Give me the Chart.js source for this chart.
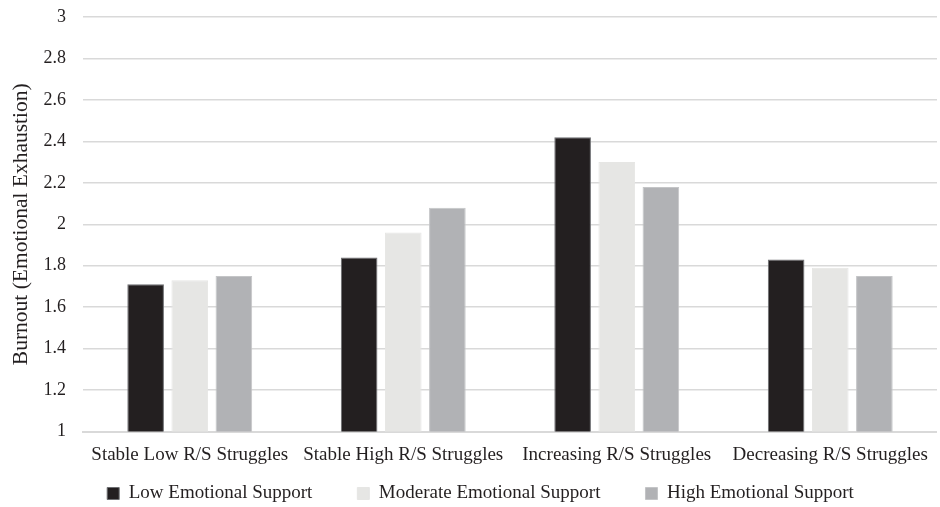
<!DOCTYPE html>
<html>
<head>
<meta charset="utf-8">
<script src="https://cdn.jsdelivr.net/npm/chart.js@4.4.0/dist/chart.umd.min.js"></script>
<style>
  html, body { margin: 0; padding: 0; background: #fff; }
  #wrap { width: 940px; height: 507px; }
</style>
</head>
<body>
<div id="wrap"><canvas id="grafikBurnout"></canvas></div>
<script>
// Data grafik
const labels = ['Stable Low R/S Struggles', 'Stable High R/S Struggles', 'Increasing R/S Struggles', 'Decreasing R/S Struggles'];
const dataLow = [1.71, 1.84, 2.42, 1.83];
const dataModerate = [1.73, 1.96, 2.30, 1.79];
const dataHigh = [1.75, 2.08, 2.18, 1.75];

Chart.defaults.font.family = '"Liberation Serif", "Times New Roman", serif';
Chart.defaults.color = '#231f20';

// Legend: jarak horizontal lebar, tapi jarak atas dibuat rapat
const paddingLegend = 45;
const geserLegend = paddingLegend - 17.5;
const geserLegendX = 9;
const legendRapat = {
    id: 'legendRapat',
    afterInit(chart) {
        const legend = chart.legend;
        const fitAsli = legend.fit.bind(legend);
        legend.fit = function() { fitAsli(); this.height -= geserLegend + 6; };
        const drawAsli = legend.draw.bind(legend);
        legend.draw = function() {
            this.top -= geserLegend; this.left += geserLegendX; this.right += geserLegendX;
            drawAsli();
            this.top += geserLegend; this.left -= geserLegendX; this.right -= geserLegendX;
        };
    }
};

let chartBurnout = new Chart(document.getElementById('grafikBurnout').getContext('2d'), {
    type: 'bar',
    data: {
        labels: labels,
        datasets: [{
            label: 'Low Emotional Support',
            data: dataLow,
            backgroundColor: '#231f20',
            borderColor: '#6d6e71',
            borderWidth: 1
        }, {
            label: 'Moderate Emotional Support',
            data: dataModerate,
            backgroundColor: '#e6e6e4',
            borderColor: '#e6e6e4',
            borderWidth: 1
        }, {
            label: 'High Emotional Support',
            data: dataHigh,
            backgroundColor: '#b1b2b5',
            borderColor: '#c4c5c7',
            borderWidth: 1
        }]
    },
    options: {
        responsive: true,
        maintainAspectRatio: false,
        animation: false,
        categoryPercentage: 0.62,
        barPercentage: 0.83,
        layout: { padding: { top: 17, right: 1, left: 4, bottom: 0 } },
        scales: {
            x: {
                grid: { display: false, drawTicks: false },
                border: { color: '#d9d9d9', width: 2 },
                ticks: { font: { size: 19 }, padding: 12, maxRotation: 0, autoSkip: false },
                afterFit: function(scale) {
                    scale.height = 35;
                }
            },
            y: {
                min: 1,
                max: 3,
                ticks: {
                    stepSize: 0.2,
                    font: { size: 18 },
                    padding: 17,
                    callback: function(value) {
                        return Math.round(value * 10) / 10;
                    }
                },
                grid: { color: '#d9d9d9', lineWidth: 1.5, drawTicks: false },
                border: { display: false },
                title: {
                    display: true,
                    text: 'Burnout (Emotional Exhaustion)',
                    font: { size: 21.5 },
                    padding: { top: 4, bottom: 4 }
                },
                afterFit: function(scale) {
                    scale.width = 79;
                    scale.paddingTop = 11;
                    scale.paddingBottom = 11;
                }
            }
        },
        plugins: {
            legend: {
                position: 'bottom',
                labels: {
                    boxWidth: 12,
                    boxHeight: 12,
                    padding: paddingLegend,
                    font: { size: 19 },
                    color: '#231f20'
                }
            },
            tooltip: { enabled: false }
        }
    },
    plugins: [legendRapat]
});
</script>
</body>
</html>
